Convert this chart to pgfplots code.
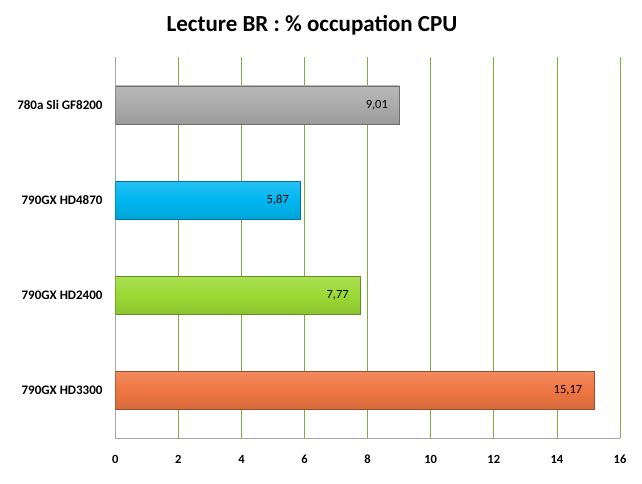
\documentclass[border=0pt]{standalone}
\usepackage{pgfplots}
\pgfplotsset{compat=1.18}
\usepackage{fontspec}
\setmainfont{Carlito}
\definecolor{cgray}{HTML}{ABABAB}
\definecolor{ccyan}{HTML}{00B6F0}
\definecolor{cgreen}{HTML}{9BD935}
\definecolor{corange}{HTML}{EE7642}
\definecolor{gridg}{HTML}{7DAE3E}
\begin{document}
\begin{tikzpicture}[x=1pt,y=1pt]
\useasboundingbox (0,0) rectangle (642,483);
\node[font=\bfseries\fontsize{23}{27}\selectfont] at (312,458) {Lecture BR : \% occupation CPU};
\begin{axis}[
  at={(115.3pt,44.7pt)}, anchor=south west,
  scale only axis, width=504.7pt, height=381pt,
  xbar, bar width=38pt, bar shift=0pt,
  xmin=0, xmax=16, ymin=-0.5, ymax=3.5,
  xtick={0,2,...,16},
  ytick={0,1,2,3},
  yticklabels={790GX HD3300,790GX HD2400,790GX HD4870,780a Sli GF8200},
  yticklabel style={font=\bfseries\fontsize{13}{15}\selectfont, xshift=-5pt},
  xticklabel style={font=\bfseries\fontsize{12.5}{14}\selectfont, yshift=-14pt, text height=1.6ex, text depth=0.2ex},
  /pgf/number format/assume math mode=true,
  tick style={draw=none},
  axis x line*=bottom, axis y line*=left,
  axis line style={draw=gray!70, line width=0.8pt},
  x axis line style={-}, y axis line style={-},
  xmajorgrids, major grid style={gridg, line width=0.7pt},
  point meta=x,
  nodes near coords,
  nodes near coords style={anchor=east, xshift=-8pt, font=\fontsize{12.5}{14}\selectfont, text=black,
    /pgf/number format/.cd, fixed, precision=2, fixed zerofill, use comma, assume math mode=true},
]
\addplot[top color=corange!85!white, bottom color=corange!90!black, middle color=corange, draw=corange!65!black, line width=0.6pt] coordinates {(15.17,0)};
\addplot[top color=cgreen!85!white, bottom color=cgreen!90!black, middle color=cgreen, draw=cgreen!65!black, line width=0.6pt] coordinates {(7.77,1)};
\addplot[top color=ccyan!85!white, bottom color=ccyan!90!black, middle color=ccyan, draw=ccyan!65!black, line width=0.6pt] coordinates {(5.87,2)};
\addplot[top color=cgray!85!white, bottom color=cgray!90!black, middle color=cgray, draw=cgray!65!black, line width=0.6pt] coordinates {(9.01,3)};
\end{axis}
\end{tikzpicture}
\end{document}
